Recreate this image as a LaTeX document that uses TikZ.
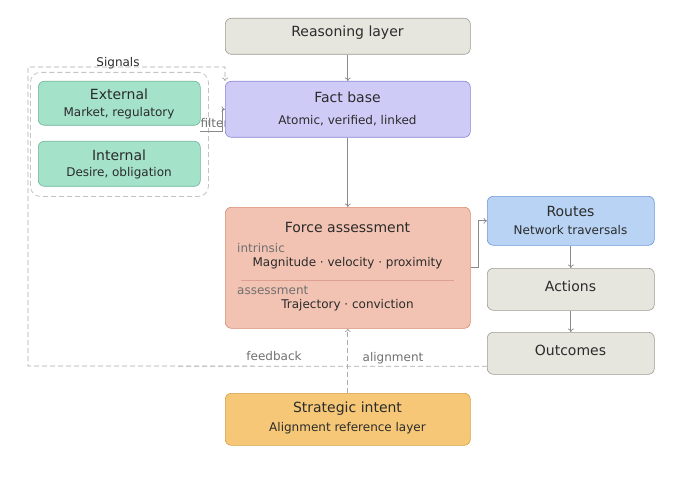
\documentclass[tikz,border=0pt]{standalone}
\usepackage{fontspec}
\setmainfont{DejaVu Sans}
\usetikzlibrary{arrows.meta}
\definecolor{txt}{HTML}{2B2B2B}
\definecolor{lbl}{HTML}{707070}
\definecolor{grayF}{HTML}{E6E6DE}
\definecolor{grayD}{HTML}{9C9C94}
\definecolor{factF}{HTML}{CFCBF7}
\definecolor{factD}{HTML}{8A84D6}
\definecolor{greenF}{HTML}{A4E2CA}
\definecolor{greenD}{HTML}{6CB596}
\definecolor{forceF}{HTML}{F2C3B2}
\definecolor{forceD}{HTML}{D98A70}
\definecolor{routeF}{HTML}{B8D3F3}
\definecolor{routeD}{HTML}{6C97D8}
\definecolor{stratF}{HTML}{F5C777}
\definecolor{stratD}{HTML}{D4A040}
\definecolor{conn}{HTML}{8A8A8A}
\definecolor{dashc}{HTML}{AAAAAA}
\definecolor{sepc}{HTML}{DDA090}
\tikzset{
  box/.style={draw, rounded corners=6pt, line width=0.6pt, inner sep=0pt, anchor=north west},
  ttl/.style={font=\fontsize{14}{16}\selectfont, text=txt, inner sep=0pt, yshift=-1.5pt},
  subt/.style={font=\fontsize{12}{14}\selectfont, text=txt, inner sep=0pt, yshift=-1.5pt},
  lab/.style={font=\fontsize{12}{14}\selectfont, text=lbl, inner sep=0pt, yshift=-1.5pt},
  arr/.style={draw=conn, line width=0.7pt, -{To[length=3.5pt,width=6pt]}},
  dsh/.style={draw=dashc, line width=0.8pt, dash pattern=on 5pt off 3pt},
}
\begin{document}
\begin{tikzpicture}[x=1pt,y=-1pt]
\useasboundingbox (0,0) rectangle (690,481);
% signals group
\node[draw=dashc!70, dash pattern=on 5pt off 3pt, line width=0.8pt, rounded corners=10pt, inner sep=0pt, anchor=north west, minimum width=178pt, minimum height=124pt] (sig) at (30,72) {};
\node[lab, text=txt] (sigL) at (118,62) {Signals};
% filter label (under fact box)
\node[lab] (filtL) at (214.5,122) {filter};
% boxes
\node[box, fill=grayF, draw=grayD, minimum width=245pt, minimum height=36pt] (reason) at (225,18) {};
\node[box, fill=factF, draw=factD, minimum width=245pt, minimum height=56pt] (fact) at (225,81) {};
\node[box, fill=greenF, draw=greenD, minimum width=162pt, minimum height=44pt] (ext) at (38,81) {};
\node[box, fill=greenF, draw=greenD, minimum width=162pt, minimum height=45pt] (int) at (38,141) {};
\node[box, fill=forceF, draw=forceD, minimum width=245pt, minimum height=121pt] (force) at (225,207) {};
\node[box, fill=routeF, draw=routeD, minimum width=167pt, minimum height=49pt] (routes) at (487,196) {};
\node[box, fill=grayF, draw=grayD, minimum width=167pt, minimum height=42pt] (act) at (487,268) {};
\node[box, fill=grayF, draw=grayD, minimum width=167pt, minimum height=42pt] (outc) at (487,332) {};
\node[box, fill=stratF, draw=stratD, minimum width=245pt, minimum height=52pt] (strat) at (225,393) {};
% texts
\node[ttl] (reasonT) at (347.5,31) {Reasoning layer};
\node[ttl] (factT) at (347.5,96) {Fact base};
\node[subt] (factS) at (347.5,119) {Atomic, verified, linked};
\node[ttl] (extT) at (119,93) {External};
\node[subt] (extS) at (119,112) {Market, regulatory};
\node[ttl] (intT) at (119,154) {Internal};
\node[subt] (intS) at (119,172) {Desire, obligation};
\node[ttl] (forceT) at (347.5,226) {Force assessment};
\node[lab, anchor=west] (intrL) at (237,247) {intrinsic};
\node[subt] (intrS) at (347.5,262) {Magnitude · velocity · proximity};
\draw[draw=sepc, line width=0.5pt] (241,280) -- (454,280);
\node[lab, anchor=west] (assL) at (237,289) {assessment};
\node[subt] (assS) at (347.5,304) {Trajectory · conviction};
\node[ttl] (routesT) at (570.5,210) {Routes};
\node[subt] (routesS) at (570.5,229) {Network traversals};
\node[ttl] (actT) at (570.5,285) {Actions};
\node[ttl] (outcT) at (570.5,349) {Outcomes};
\node[ttl] (stratT) at (347.5,407) {Strategic intent};
\node[subt] (stratS) at (347.5,427) {Alignment reference layer};
\node[lab] (fbL) at (274,355) {feedback};
\node[lab] (alL) at (393,357) {alignment};
% connectors
\draw[arr] (reason) -- (fact);
\draw[arr] (fact) -- (force);
\draw[arr] (force.east) -- ++(8,0) |- (routes.west);
\draw[arr] (routes) -- (act);
\draw[arr] (act) -- (outc);
\draw[dsh, -{To[length=3.5pt,width=6pt]}] (strat) -- (force);
\coordinate (fs) at (200,131);
\draw[arr] (fs) -- (222,131) |- (fact.west);
\coordinate (fb1) at (28,366);
\coordinate (fb2) at (28,67);
\coordinate (fb3) at (225,67);
\draw[dsh, -{To[length=3.5pt,width=6pt]}] ([yshift=-13pt]outc.west) -- (fb1) -- (fb2) -- (fb3) -- (fact.north west);
\end{tikzpicture}
\end{document}
